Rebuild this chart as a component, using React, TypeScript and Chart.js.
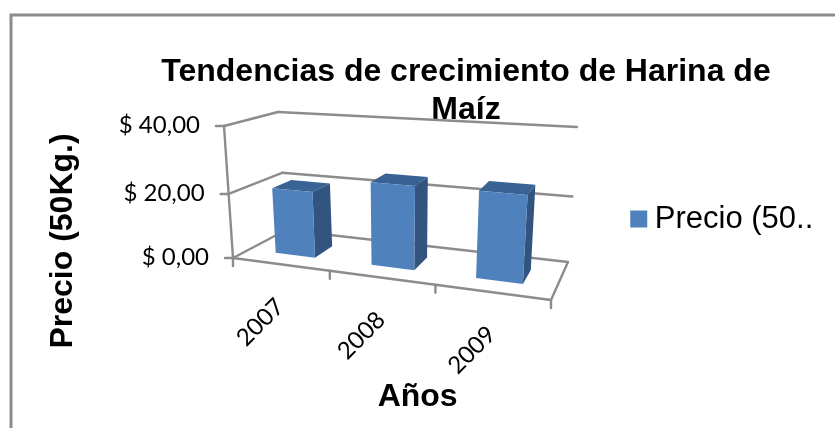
import React, { useEffect, useRef } from "react";
import { Chart, registerables, layouts } from "chart.js";

Chart.register(...registerables);

const years = ["2007", "2008", "2009"];
const prices = [20.5, 25, 25.2];
const seriesLabel = "Precio (50..";
const titleLines = ["Tendencias de crecimiento de Harina de", "Maíz"];
const yTitle = "Precio (50Kg.)";
const xTitle = "Años";

const FRONT = "#4f81bd";
const SIDE = "#31557f";
const TOP = "#3a6395";
const LINE = "#8c8c8c";
const BOLD = "bold 32px 'Liberation Sans'";
const TICK = "24px Lato";

type Pt = [number, number];
// Screen corners of the 3-D box: [u][v][w], u right, v up, w back
const C: Record<string, Pt> = {
  "000": [233, 258],
  "010": [224, 126],
  "100": [551, 300],
  "110": [561, 148],
  "001": [286, 230],
  "011": [278, 112],
  "101": [568, 262],
  "111": [577, 127],
};
const persp = (t: number, k: number) => (t * k) / (1 + (k - 1) * t);

function project(u: number, v: number, w: number): Pt {
  const a = persp(u, 0.876);
  const b = persp(v, 0.942);
  const out: Pt = [0, 0];
  for (const i of [0, 1])
    for (const j of [0, 1])
      for (const l of [0, 1]) {
        const f = (i ? a : 1 - a) * (j ? b : 1 - b) * (l ? w : 1 - w);
        const p = C[`${i}${j}${l}`];
        out[0] += f * p[0];
        out[1] += f * p[1];
      }
  return out;
}

function poly(ctx: CanvasRenderingContext2D, pts: Pt[], fill: string) {
  ctx.beginPath();
  pts.forEach((p, i) => (i ? ctx.lineTo(p[0], p[1]) : ctx.moveTo(p[0], p[1])));
  ctx.closePath();
  ctx.fillStyle = fill;
  ctx.fill();
}

function seg(ctx: CanvasRenderingContext2D, a: Pt, b: Pt) {
  ctx.beginPath();
  ctx.moveTo(a[0], a[1]);
  ctx.lineTo(b[0], b[1]);
  ctx.stroke();
}

const W0 = 0.31;
const W1 = 0.69;

const scene3d = {
  id: "scene3d",
  beforeInit(chart: any) {
    // A layout box that holds the two-line title and pushes the plot area down
    layouts.addBox(chart, {
      position: "top",
      weight: -10,
      fullSize: false,
      options: {},
      left: 0,
      top: 0,
      right: 0,
      bottom: 0,
      width: 0,
      height: 0,
      isHorizontal: () => true,
      update(this: any, w: number) {
        this.width = w;
        this.height = 90;
      },
      draw() {
        const { ctx } = chart;
        ctx.save();
        ctx.fillStyle = "#000";
        ctx.font = BOLD;
        ctx.textAlign = "center";
        ctx.textBaseline = "middle";
        ctx.fillText(titleLines[0], 466, 72);
        ctx.fillText(titleLines[1], 466, 110);
        ctx.restore();
      },
    } as any);
  },
  beforeDraw(chart: any) {
    const { ctx } = chart;
    ctx.save();
    ctx.strokeStyle = LINE;
    ctx.lineWidth = 3;
    ctx.beginPath();
    ctx.moveTo(11, 428);
    ctx.lineTo(11, 15);
    ctx.lineTo(835, 15);
    ctx.stroke();
    ctx.restore();
  },
  beforeDatasetsDraw(chart: any) {
    const { ctx, chartArea: ca } = chart;
    const ys = chart.scales.y;
    const xs = chart.scales.x;
    ctx.save();
    ctx.strokeStyle = LINE;
    ctx.lineWidth = 2.4;
    ctx.lineCap = "round";
    // Walls and gridlines from the value scale
    ys.ticks.forEach((t: any, i: number) => {
      const v = (ca.bottom - ys.getPixelForTick(i)) / (ca.bottom - ca.top);
      const a = project(0, v, 0);
      const b = project(0, v, 1);
      const c = project(1, v, 1);
      seg(ctx, a, b);
      seg(ctx, b, c);
      seg(ctx, [a[0] - 8, a[1]], a);
      ctx.fillStyle = "#000";
      ctx.font = TICK;
      ctx.textAlign = "right";
      ctx.textBaseline = "middle";
      ctx.fillText(t.label, a[0] - 24, a[1] - 1);
    });
    seg(ctx, project(0, 0, 0), project(0, 1, 0));
    seg(ctx, project(0, 0, 0), project(1, 0, 0));
    seg(ctx, project(1, 0, 0), project(1, 0, 1));
    // Category ticks and labels
    [0, 1 / 3, 2 / 3, 1].forEach((u) => {
      const p = project(u, 0, 0);
      seg(ctx, p, [p[0], p[1] + 8]);
    });
    years.forEach((label, i) => {
      const u = (xs.getPixelForValue(i) - ca.left) / (ca.right - ca.left);
      const p = project(u, 0, 0);
      ctx.save();
      ctx.translate(p[0] - 20, p[1] + 58);
      ctx.rotate(-Math.PI / 4);
      ctx.fillStyle = "#000";
      ctx.font = TICK;
      ctx.textAlign = "center";
      ctx.textBaseline = "middle";
      ctx.fillText(label, 0, 0);
      ctx.restore();
    });
    ctx.restore();
  },
  beforeDatasetDraw(chart: any, args: any) {
    const { ctx, chartArea: ca } = chart;
    const meta = chart.getDatasetMeta(args.index);
    const W = ca.right - ca.left;
    const H = ca.bottom - ca.top;
    meta.data.forEach((el: any) => {
      const { x, y, width } = el.getProps(["x", "y", "width"]);
      const u0 = (x - width / 2 - ca.left) / W;
      const u1 = (x + width / 2 - ca.left) / W;
      const v = (ca.bottom - y) / H;
      const fb0 = project(u0, 0, W0);
      const fb1 = project(u1, 0, W0);
      const ft0 = project(u0, v, W0);
      const ft1 = project(u1, v, W0);
      const bb1 = project(u1, 0, W1);
      const bt0 = project(u0, v, W1);
      const bt1 = project(u1, v, W1);
      poly(ctx, [ft1, bt1, bb1, fb1], SIDE);
      poly(ctx, [ft0, bt0, bt1, ft1], TOP);
      poly(ctx, [fb0, ft0, ft1, fb1], FRONT);
    });
    return false;
  },
};

export default function App() {
  const ref = useRef<HTMLCanvasElement>(null);
  useEffect(() => {
    const chart = new Chart(ref.current!, {
      type: "bar",
      data: {
        labels: years,
        datasets: [
          {
            label: seriesLabel,
            data: prices,
            backgroundColor: FRONT,
            categoryPercentage: 0.42,
            barPercentage: 1,
          },
        ],
      },
      options: {
        responsive: false,
        animation: false,
        layout: { padding: { left: 44, top: 22, right: 12, bottom: 12 } },
        plugins: {
          title: { display: false },
          tooltip: { enabled: false },
          legend: {
            display: true,
            position: "right",
            labels: {
              usePointStyle: true,
              pointStyle: "rect",
              boxWidth: 1,
              boxHeight: 17,
              color: "#000",
              padding: 10,
              font: { family: "'Liberation Sans'", size: 31 },
            },
          },
        },
        scales: {
          x: {
            type: "category",
            grid: { display: false },
            border: { display: false },
            ticks: { display: false },
            title: {
              display: true,
              text: xTitle,
              color: "#000",
              font: { family: "'Liberation Sans'", size: 32, weight: "bold" },
              padding: 0,
            },
            afterFit(s: any) {
              s.height = 46;
            },
          },
          y: {
            min: 0,
            max: 40,
            grid: { display: false },
            border: { display: false },
            ticks: {
              display: false,
              stepSize: 20,
              callback: (v: any) => `$ ${Number(v).toFixed(2).replace(".", ",")}`,
            },
            title: {
              display: true,
              text: yTitle,
              color: "#000",
              font: { family: "'Liberation Sans'", size: 32, weight: "bold" },
              padding: 0,
            },
            afterFit(s: any) {
              s.width = 163;
            },
          },
        },
      },
      plugins: [scene3d],
    } as any);
    return () => chart.destroy();
  }, []);
  return (
    <div style={{ position: "fixed", left: 0, top: 0, width: 835, height: 428, background: "#fff" }}>
      <canvas ref={ref} width={835} height={428} style={{ display: "block" }} />
    </div>
  );
}
